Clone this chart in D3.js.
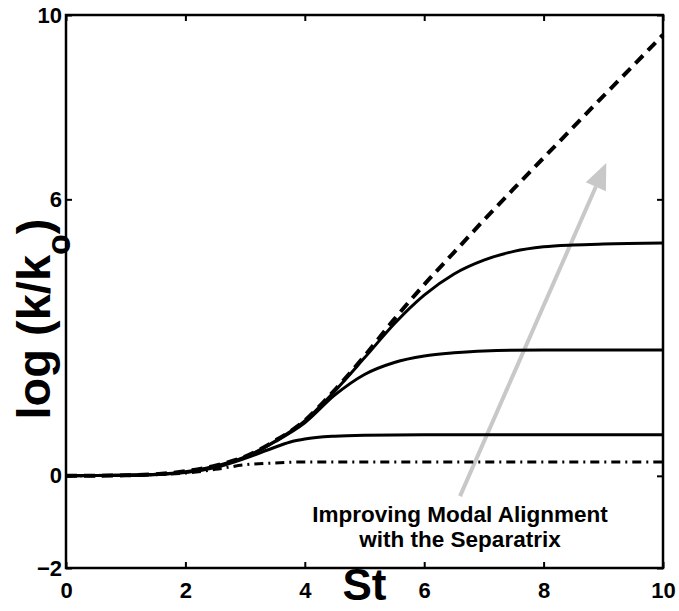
<!DOCTYPE html>
<html>
<head>
<meta charset="utf-8">
<script src="https://cdn.jsdelivr.net/npm/d3@7"></script>
<style>
  html, body { margin: 0; padding: 0; background: #fff; }
  svg { display: block; }
  text { font-family: "Liberation Sans", Arial, Helvetica, sans-serif; font-weight: bold; fill: #000; }
</style>
</head>
<body>
<svg id="chart" width="679" height="611"></svg>
<script>
// ---- data ----
const xTicks = [0, 2, 4, 6, 8, 10];
const yTicks = [-2, 0, 6, 10];

const sepX  = [0, 1, 2, 2.5, 3, 3.5, 4, 4.4, 5, 5.5, 6, 6.5, 7, 7.5, 8, 8.5, 9, 9.5, 10];
const sepY  = [0, 0.01, 0.1, 0.22, 0.42, 0.76, 1.2, 1.72, 2.6, 3.4, 4.15, 4.85, 5.55, 6.23, 6.9, 7.57, 8.24, 8.9, 9.57];

const c3X = [0, 1, 2, 2.5, 3, 3.5, 4, 4.4, 5, 5.5, 6, 6.5, 7, 7.5, 8, 8.5, 9, 10];
const c3Y = [0, 0.01, 0.09, 0.21, 0.41, 0.75, 1.19, 1.7, 2.56, 3.3, 3.92, 4.38, 4.68, 4.87, 4.97, 5.01, 5.03, 5.05];

const c2X = [0, 1, 2, 2.5, 3, 3.5, 4, 4.5, 5, 5.5, 6, 6.5, 7, 8, 10];
const c2Y = [0, 0.01, 0.08, 0.2, 0.4, 0.74, 1.15, 1.75, 2.2, 2.46, 2.6, 2.67, 2.71, 2.73, 2.73];

const c1X = [0, 1, 2, 2.5, 3, 3.5, 3.8, 4, 4.5, 5, 6, 10];
const c1Y = [0, 0.01, 0.07, 0.18, 0.38, 0.62, 0.75, 0.8, 0.86, 0.88, 0.89, 0.89];

const c0X = [0, 1, 2, 2.5, 3, 3.5, 4, 10];
const c0Y = [0, 0.01, 0.06, 0.14, 0.24, 0.28, 0.3, 0.3];

const arrowFrom = [6.6, -0.44];
const arrowTo   = [9.05, 6.79];

const noteLines = ["Improving Modal Alignment", "with the Separatrix"];
const noteAt = [6.6, -1.0];

// ---- layout ----
const svg = d3.select("#chart");
const mLeft = 66, mRight = 663, mTop = 15, mBottom = 568;

const x = d3.scaleLinear().domain([0, 10]).range([mLeft, mRight]);
const y = d3.scaleLinear().domain([-2, 10]).range([mBottom, mTop]);

svg.append("rect").attr("width", 679).attr("height", 611).attr("fill", "#fff");

const line = d3.line().x(d => x(d[0])).y(d => y(d[1])).curve(d3.curveMonotoneX);
const zip = (a, b) => a.map((v, i) => [v, b[i]]);

const g = svg.append("g");

// arrow (gray) drawn first
const ax0 = x(arrowFrom[0]), ay0 = y(arrowFrom[1]);
const ax1 = x(arrowTo[0]),   ay1 = y(arrowTo[1]);
const ang = Math.atan2(ay1 - ay0, ax1 - ax0);
const headLen = 26, headW = 11;
const bx = ax1 - headLen * Math.cos(ang), by = ay1 - headLen * Math.sin(ang);
g.append("line")
  .attr("x1", ax0).attr("y1", ay0).attr("x2", bx).attr("y2", by)
  .attr("stroke", "#c8c8c8").attr("stroke-width", 4);
g.append("path")
  .attr("d", `M${ax1},${ay1} L${bx + headW * Math.sin(ang)},${by - headW * Math.cos(ang)} L${bx - headW * Math.sin(ang)},${by + headW * Math.cos(ang)} Z`)
  .attr("fill", "#c8c8c8");

// curves
g.append("path").datum(zip(c0X, c0Y)).attr("d", line)
  .attr("fill", "none").attr("stroke", "#000").attr("stroke-width", 3)
  .attr("stroke-dasharray", "9,5,2,5");
[[c1X, c1Y], [c2X, c2Y], [c3X, c3Y]].forEach(([a, b]) => {
  g.append("path").datum(zip(a, b)).attr("d", line)
    .attr("fill", "none").attr("stroke", "#000").attr("stroke-width", 3);
});
g.append("path").datum(zip(sepX, sepY)).attr("d", line)
  .attr("fill", "none").attr("stroke", "#000").attr("stroke-width", 4)
  .attr("stroke-dasharray", "11,7");

// axes
const fs = "22px";
const axB = svg.append("g").attr("transform", `translate(0,${mBottom})`)
  .call(d3.axisBottom(x).tickValues(xTicks).tickSize(-6).tickPadding(14).tickFormat(d3.format("d")));
const axT = svg.append("g").attr("transform", `translate(0,${mTop})`)
  .call(d3.axisTop(x).tickValues(xTicks).tickSize(-6).tickFormat(""));
const axL = svg.append("g").attr("transform", `translate(${mLeft},0)`)
  .call(d3.axisLeft(y).tickValues(yTicks).tickSize(-6).tickPadding(4).tickFormat(d => d < 0 ? "\u2212" + Math.abs(d) : d));
const axR = svg.append("g").attr("transform", `translate(${mRight},0)`)
  .call(d3.axisRight(y).tickValues(yTicks).tickSize(-6).tickFormat(""));
[axB, axT, axL, axR].forEach(a => {
  a.select(".domain").remove();
  a.selectAll(".tick line").attr("stroke", "#000").attr("stroke-width", 2);
  a.selectAll("text").attr("font-size", fs).attr("font-family", null).attr("fill", "#000");
});

// frame
svg.append("rect").attr("x", mLeft).attr("y", mTop)
  .attr("width", mRight - mLeft).attr("height", mBottom - mTop)
  .attr("fill", "none").attr("stroke", "#000").attr("stroke-width", 2.5);

// annotation
const note = svg.append("text").attr("text-anchor", "middle").attr("font-size", "22.5px");
noteLines.forEach((t, i) => {
  note.append("tspan").attr("x", x(noteAt[0])).attr("y", y(noteAt[1]) + i * 25).text(t);
});

// axis labels
svg.append("text").attr("x", (mLeft + mRight) / 2).attr("y", 600)
  .attr("text-anchor", "middle").attr("font-size", "44px").text("St");

const yl = svg.append("text")
  .attr("transform", `translate(50,319) rotate(-90)`)
  .attr("text-anchor", "middle").attr("font-size", "47px");
yl.append("tspan").text("log (k/k");
yl.append("tspan").attr("font-size", "34px").attr("dy", "20").text("o");
yl.append("tspan").attr("dy", "-20").text(")");
</script>
</body>
</html>
